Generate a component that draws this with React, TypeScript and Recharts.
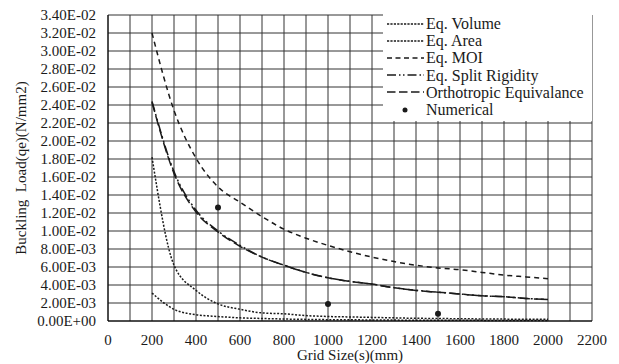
import React from "react";
import {
  ComposedChart,
  Line,
  Scatter,
  XAxis,
  YAxis,
  CartesianGrid,
  Legend,
} from "recharts";

const gridSizes = [200, 300, 400, 500, 600, 700, 800, 900, 1000, 1100, 1200, 1300, 1400, 1500, 1600, 1700, 1800, 1900, 2000];

const eqVolume = [0.0031, 0.0013, 0.0007, 0.0005, 0.00035, 0.00028, 0.00022, 0.00018, 0.00015, 0.00013, 0.00012, 0.0001, 0.00009, 0.00008, 0.00008, 0.00007, 0.00006, 0.00006, 0.00005];
const eqArea = [0.0182, 0.0062, 0.0034, 0.0019, 0.0013, 0.0009, 0.0008, 0.0006, 0.0005, 0.00045, 0.0004, 0.00035, 0.0003, 0.00028, 0.00025, 0.00023, 0.00021, 0.0002, 0.00019];
const eqMOI = [0.032, 0.0234, 0.0181, 0.0149, 0.0132, 0.0116, 0.0102, 0.0092, 0.0084, 0.0077, 0.0071, 0.0066, 0.0062, 0.0059, 0.0057, 0.0054, 0.0051, 0.0049, 0.0047];
const eqSplit = [0.0244, 0.0166, 0.0123, 0.01, 0.0084, 0.0071, 0.0062, 0.0054, 0.0048, 0.0044, 0.0041, 0.0037, 0.0034, 0.0032, 0.003, 0.0028, 0.0027, 0.0025, 0.0024];
const orthotropic = [0.0243, 0.0164, 0.0121, 0.0099, 0.0083, 0.0071, 0.0062, 0.0054, 0.0048, 0.0044, 0.0041, 0.0037, 0.0034, 0.0032, 0.003, 0.0028, 0.0027, 0.0025, 0.0024];

const numericalX = [500, 1000, 1500];
const numericalY = [0.0126, 0.0019, 0.0008];

const xTicks = [0, 100, 200, 300, 400, 500, 600, 700, 800, 900, 1000, 1100, 1200, 1300, 1400, 1500, 1600, 1700, 1800, 1900, 2000, 2100, 2200];
const yTicks = [0, 0.002, 0.004, 0.006, 0.008, 0.01, 0.012, 0.014, 0.016, 0.018, 0.02, 0.022, 0.024, 0.026, 0.028, 0.03, 0.032, 0.034];

const FONT = '"Liberation Serif", "Times New Roman", serif';
const INK = "#1a1a1a";

const curveData = gridSizes.map((s, i) => ({
  s,
  volume: eqVolume[i],
  area: eqArea[i],
  moi: eqMOI[i],
  split: eqSplit[i],
  ortho: orthotropic[i],
}));
const numericalData = numericalX.map((s, i) => ({ s, value: numericalY[i] }));

const series = [
  { key: "volume", name: "Eq. Volume", dash: "2 1.6", legendDash: "2.2 1.2" },
  { key: "area", name: "Eq. Area", dash: "2 1.6", legendDash: "2.2 1.2" },
  { key: "moi", name: "Eq. MOI", dash: "5 4", legendDash: "5 3.5" },
  { key: "split", name: "Eq. Split Rigidity", dash: "10 3 2 3 2 3", legendDash: "9 3 1.5 2.5 1.5 3" },
  { key: "ortho", name: "Orthotropic Equivalance", dash: "10 4", legendDash: "8.5 3.5" },
];

function sci(v: number) {
  const [m, e] = v.toExponential(2).split("e");
  const sign = e.startsWith("-") ? "-" : "+";
  const digits = e.replace(/[+-]/, "").padStart(2, "0");
  return `${m}E${sign}${digits}`;
}

function YTitle(props: any) {
  const { viewBox } = props;
  const cx = 21;
  const cy = viewBox.y + viewBox.height / 2;
  return (
    <text
      x={cx}
      y={cy}
      transform={`rotate(-90 ${cx} ${cy})`}
      textAnchor="middle"
      dominantBaseline="central"
      fontFamily={FONT}
      fontSize={15}
      fill={INK}
      style={{ whiteSpace: "pre" }}
    >
      {"Buckling  Load(qe)(N/mm2)"}
    </text>
  );
}

function XTitle(props: any) {
  const { viewBox } = props;
  return (
    <text
      x={viewBox.x + viewBox.width / 2}
      y={360}
      textAnchor="middle"
      fontFamily={FONT}
      fontSize={15}
      fill={INK}
    >
      Grid Size(s)(mm)
    </text>
  );
}

function LegendBox() {
  return (
    <div
      style={{
        background: "#fff",
        width: 209,
        height: 107,
        paddingTop: 1,
        boxSizing: "border-box",
        fontFamily: FONT,
        fontSize: 16,
        color: INK,
      }}
    >
      {series.map((s) => (
        <div key={s.key} style={{ display: "flex", alignItems: "center", height: 17.2 }}>
          <svg width={37} height={10} style={{ marginLeft: 4, marginRight: 2 }}>
            <line x1={0} y1={5} x2={37} y2={5} stroke={INK} strokeWidth={1.3} strokeDasharray={s.legendDash} />
          </svg>
          <span style={{ lineHeight: "17px" }}>{s.name}</span>
        </div>
      ))}
      <div style={{ display: "flex", alignItems: "center", height: 17.2 }}>
        <svg width={37} height={10} style={{ marginLeft: 4, marginRight: 2 }}>
          <circle cx={18} cy={5} r={2.5} fill={INK} />
        </svg>
        <span style={{ lineHeight: "17px" }}>Numerical</span>
      </div>
    </div>
  );
}

export default function App() {
  return (
    <div style={{ position: "absolute", left: 0, top: 0, width: 619, height: 364, background: "#fff" }}>
      <ComposedChart
        width={619}
        height={364}
        data={curveData}
        margin={{ top: 15, right: 27, left: 0, bottom: 0 }}
      >
        <CartesianGrid stroke="#333" strokeWidth={1} />
        <XAxis
          dataKey="s"
          type="number"
          domain={[0, 2200]}
          ticks={xTicks}
          interval={0}
          tickFormatter={(v: number) => (v % 200 === 0 ? String(v) : "")}
          tick={{ fontFamily: FONT, fontSize: 15, fill: INK }}
          tickLine={false}
          tickSize={0}
          tickMargin={13}
          height={43}
          axisLine={{ stroke: "#000" }}
          label={<XTitle />}
        />
        <YAxis
          type="number"
          domain={[0, 0.034]}
          ticks={yTicks}
          interval={0}
          tickFormatter={sci}
          tick={{ fontFamily: FONT, fontSize: 15, fill: INK }}
          tickLine={false}
          tickSize={0}
          tickMargin={12}
          width={108}
          axisLine={{ stroke: "#000" }}
          label={<YTitle />}
        />
        <Legend
          layout="vertical"
          align="center"
          verticalAlign="middle"
          content={() => <LegendBox />}
          wrapperStyle={{ position: "absolute", left: 383, top: 14, width: 209, height: 107 }}
        />
        {series.map((s) => (
          <Line
            key={s.key}
            type="monotone"
            dataKey={s.key}
            name={s.name}
            stroke={INK}
            strokeWidth={1.5}
            strokeDasharray={s.dash}
            dot={false}
            isAnimationActive={false}
          />
        ))}
        <Scatter
          data={numericalData}
          dataKey="value"
          name="Numerical"
          fill={INK}
          shape={(p: any) => <circle cx={p.cx} cy={p.cy} r={3} fill={INK} />}
          isAnimationActive={false}
        />
      </ComposedChart>
    </div>
  );
}
